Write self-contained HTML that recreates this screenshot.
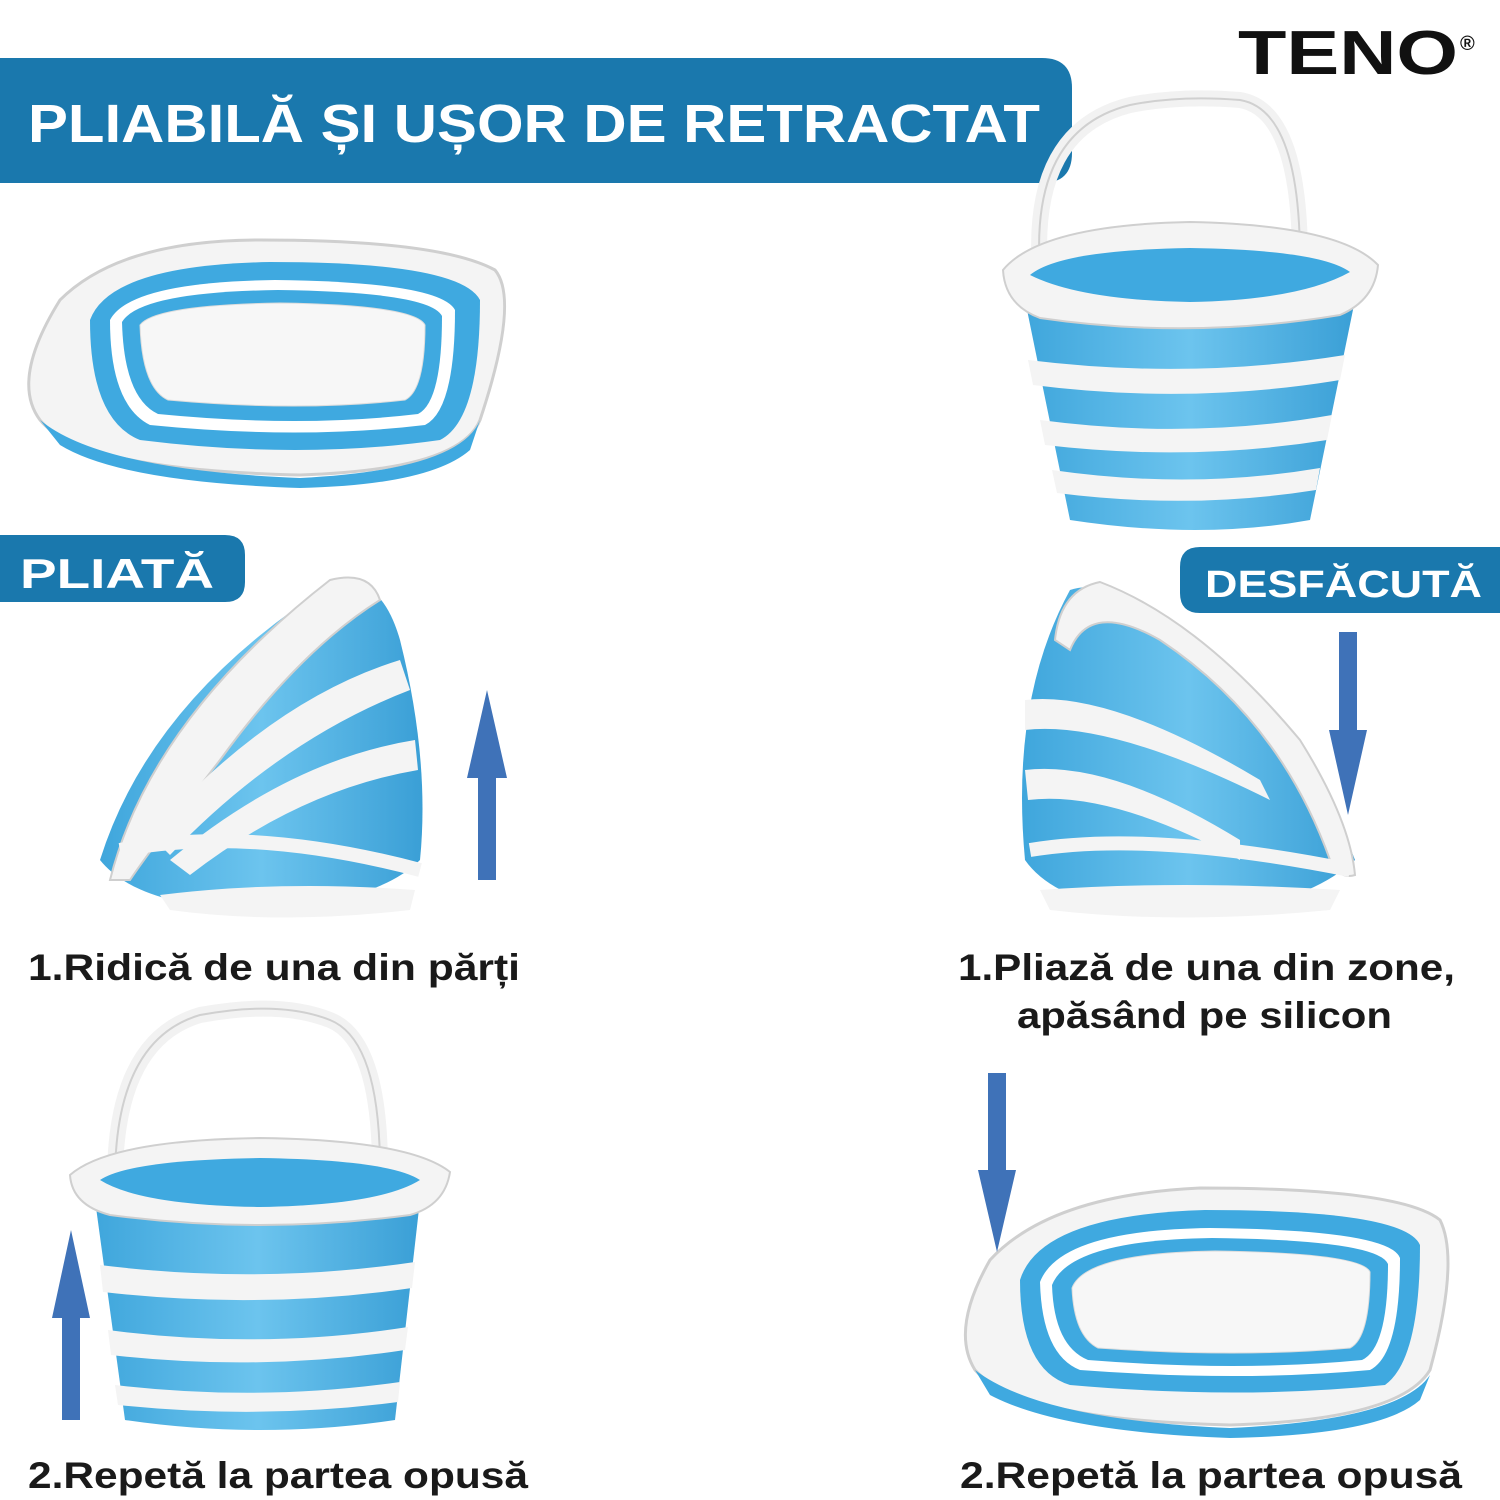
<!DOCTYPE html>
<html><head><meta charset="utf-8"><style>
html,body{margin:0;padding:0;background:#fff;}
svg{display:block}
text{font-family:"Liberation Sans",sans-serif;font-weight:bold}
</style></head><body>
<svg width="1500" height="1500" viewBox="0 0 1500 1500" xmlns="http://www.w3.org/2000/svg">
<defs>
<linearGradient id="bl" x1="0" x2="1"><stop offset="0" stop-color="#3fa6dc"/><stop offset="0.5" stop-color="#6cc4ee"/><stop offset="1" stop-color="#3a9fd6"/></linearGradient>
</defs>
<!-- header -->
<path d="M0 58 H1042 Q1072 58 1072 88 V153 Q1072 183 1042 183 H0 Z" fill="#1a78ad"/>
<text x="28" y="142" font-size="54" fill="#fff" textLength="1012" lengthAdjust="spacingAndGlyphs">PLIABILĂ ȘI UȘOR DE RETRACTAT</text>
<!-- logo -->
<text x="1238" y="74" font-size="62" fill="#111" textLength="220" lengthAdjust="spacingAndGlyphs">TENO</text>
<text x="1460" y="50" font-size="20" fill="#111">®</text>

<!-- labels -->
<path d="M0 535 H225 Q245 535 245 555 V582 Q245 602 225 602 H0 Z" fill="#1a78ad"/>
<text x="20" y="588" font-size="42" fill="#fff" textLength="194" lengthAdjust="spacingAndGlyphs">PLIATĂ</text>
<path d="M1200 547 H1500 V613 H1200 Q1180 613 1180 593 V567 Q1180 547 1200 547 Z" fill="#1a78ad"/>
<text x="1205" y="597" font-size="38" fill="#fff" textLength="277" lengthAdjust="spacingAndGlyphs">DESFĂCUTĂ</text>

<!-- bucket 1 folded top-left -->
<g>
<path d="M60 300 Q120 240 260 240 Q440 240 495 270 Q520 300 480 420 Q460 470 300 475 Q80 470 40 420 Q10 380 60 300 Z" fill="#f4f4f4" stroke="#cfcfcf" stroke-width="3"/>
<path d="M90 320 Q110 265 270 262 Q460 262 480 300 Q480 420 440 440 Q300 460 140 440 Q90 420 90 320 Z" fill="#3fa9e0"/>
<path d="M110 320 Q130 282 275 280 Q440 282 455 310 Q455 410 425 425 Q300 440 150 425 Q110 405 110 320 Z" fill="#fff"/>
<path d="M122 322 Q140 292 278 290 Q430 292 442 316 Q442 402 418 414 Q300 428 158 414 Q124 398 122 322 Z" fill="#3fa9e0"/>
<path d="M140 325 Q155 305 280 303 Q415 305 425 325 Q425 390 405 400 Q300 412 168 400 Q142 388 140 325 Z" fill="#f7f7f7" stroke="#ddd"/>
<path d="M40 420 Q100 470 300 478 Q460 470 480 420 L470 450 Q430 485 300 488 Q120 482 60 445 Z" fill="#3fa9e0"/>
</g>

<!-- bucket 2 upright top-right -->
<g>
<path d="M1040 270 Q1030 130 1130 105 Q1180 95 1240 100 Q1300 110 1300 260" fill="none" stroke="#f2f2f2" stroke-width="16"/>
<path d="M1040 270 Q1030 130 1130 105 Q1180 95 1240 100 Q1300 110 1300 260" fill="none" stroke="#d0d0d0" stroke-width="2"/>
<path d="M1025 300 L1355 300 L1310 520 Q1200 540 1070 520 Z" fill="url(#bl)"/>
<path d="M1028 360 Q1190 380 1345 355 L1340 380 Q1190 405 1033 385 Z" fill="#f4f4f4"/>
<path d="M1040 420 Q1190 440 1332 415 L1327 440 Q1190 462 1045 445 Z" fill="#f4f4f4"/>
<path d="M1052 470 Q1190 490 1320 468 L1316 490 Q1190 510 1057 493 Z" fill="#f4f4f4"/>
<path d="M1003 270 Q1040 225 1190 222 Q1340 225 1378 265 Q1375 300 1340 315 Q1190 340 1040 318 Q1005 305 1003 270 Z" fill="#f4f4f4" stroke="#cfcfcf" stroke-width="2"/>
<path d="M1030 275 Q1060 250 1190 248 Q1320 250 1350 272 Q1300 300 1190 302 Q1080 300 1030 275 Z" fill="#3fa9e0"/>
</g>

<!-- bucket 3 tilted left -->
<g>
<path d="M100 860 Q150 700 330 585 Q380 570 400 640 Q430 760 420 860 Q380 900 270 910 Q140 910 100 860 Z" fill="url(#bl)"/>
<path d="M110 880 Q150 720 330 580 Q370 570 380 600 Q300 650 220 760 Q150 850 130 880 Z" fill="#f4f4f4" stroke="#cfcfcf" stroke-width="2"/>
<path d="M150 835 Q270 700 400 660 L410 690 Q280 740 170 855 Z" fill="#f4f4f4"/>
<path d="M170 860 Q290 760 415 740 L418 770 Q300 790 190 875 Z" fill="#f4f4f4"/>
<path d="M120 850 Q250 825 420 870" fill="none" stroke="#f4f4f4" stroke-width="14"/>
<path d="M160 895 Q280 880 415 890 L410 910 Q280 925 170 910 Z" fill="#f4f4f4"/>
</g>

<!-- bucket 4 tilted right -->
<g>
<path d="M1025 860 Q1010 700 1070 590 Q1110 575 1200 640 Q1310 740 1355 860 Q1300 910 1180 915 Q1060 910 1025 860 Z" fill="url(#bl)"/>
<path d="M1055 640 Q1060 590 1100 582 Q1200 620 1300 740 Q1350 820 1355 875 Q1340 880 1330 860 Q1280 720 1160 640 Q1090 600 1070 650 Z" fill="#f4f4f4" stroke="#cfcfcf" stroke-width="2"/>
<path d="M1025 700 Q1110 690 1260 780 L1270 800 Q1110 720 1025 730 Z" fill="#f4f4f4"/>
<path d="M1025 770 Q1110 760 1240 840 L1240 860 Q1110 790 1028 800 Z" fill="#f4f4f4"/>
<path d="M1030 850 Q1150 830 1350 870" fill="none" stroke="#f4f4f4" stroke-width="14"/>
<path d="M1040 890 Q1180 880 1340 890 L1330 910 Q1180 925 1050 910 Z" fill="#f4f4f4"/>
</g>

<!-- bucket 5 upright bottom-left -->
<g>
<path d="M115 1180 Q115 1040 200 1015 Q280 1000 330 1020 Q380 1040 380 1170" fill="none" stroke="#f2f2f2" stroke-width="16"/>
<path d="M115 1180 Q115 1040 200 1015 Q280 1000 330 1020 Q380 1040 380 1170" fill="none" stroke="#d0d0d0" stroke-width="2"/>
<path d="M95 1200 L420 1200 L395 1420 Q260 1440 125 1420 Z" fill="url(#bl)"/>
<path d="M100 1265 Q260 1285 415 1262 L412 1288 Q260 1310 103 1292 Z" fill="#f4f4f4"/>
<path d="M108 1330 Q260 1350 408 1327 L405 1350 Q260 1372 111 1355 Z" fill="#f4f4f4"/>
<path d="M115 1385 Q260 1402 400 1382 L398 1402 Q260 1420 118 1405 Z" fill="#f4f4f4"/>
<path d="M70 1175 Q110 1140 260 1138 Q410 1140 450 1172 Q445 1205 410 1215 Q260 1235 110 1215 Q72 1205 70 1175 Z" fill="#f4f4f4" stroke="#cfcfcf" stroke-width="2"/>
<path d="M100 1180 Q130 1160 260 1158 Q390 1160 420 1180 Q380 1205 260 1207 Q140 1205 100 1180 Z" fill="#3fa9e0"/>
</g>

<!-- bucket 6 folded bottom-right -->
<g>
<path d="M990 1260 Q1050 1195 1200 1188 Q1400 1188 1440 1220 Q1460 1260 1430 1370 Q1400 1420 1230 1425 Q1020 1420 975 1370 Q950 1330 990 1260 Z" fill="#f4f4f4" stroke="#cfcfcf" stroke-width="3"/>
<path d="M1020 1280 Q1040 1215 1205 1210 Q1405 1210 1420 1245 Q1420 1360 1385 1385 Q1240 1400 1070 1385 Q1020 1370 1020 1280 Z" fill="#3fa9e0"/>
<path d="M1040 1282 Q1060 1230 1210 1228 Q1390 1230 1400 1258 Q1400 1355 1370 1370 Q1240 1382 1080 1370 Q1042 1355 1040 1282 Z" fill="#fff"/>
<path d="M1052 1285 Q1070 1240 1212 1238 Q1378 1240 1388 1264 Q1388 1348 1362 1360 Q1240 1372 1088 1360 Q1054 1346 1052 1285 Z" fill="#3fa9e0"/>
<path d="M1072 1288 Q1085 1253 1215 1251 Q1362 1253 1370 1272 Q1370 1338 1350 1348 Q1240 1358 1098 1348 Q1074 1336 1072 1288 Z" fill="#f7f7f7" stroke="#ddd"/>
<path d="M975 1370 Q1040 1420 1230 1428 Q1400 1420 1430 1375 L1420 1400 Q1380 1435 1230 1438 Q1060 1432 990 1395 Z" fill="#3fa9e0"/>
</g>

<!-- arrows -->
<g fill="#3f72b8">
<polygon points="478,880 496,880 496,778 507,778 487,690 467,778 478,778"/>
<polygon points="1339,632 1357,632 1357,730 1367,730 1348,815 1329,730 1339,730"/>
<polygon points="988,1073 1006,1073 1006,1170 1016,1170 997,1252 978,1170 988,1170"/>
<polygon points="62,1420 80,1420 80,1318 90,1318 71,1230 52,1318 62,1318"/>
</g>

<!-- captions -->
<text x="28" y="980" font-size="37" fill="#1a1a1a" textLength="492" lengthAdjust="spacingAndGlyphs">1.Ridică de una din părți</text>
<text x="958" y="980" font-size="37" fill="#1a1a1a" textLength="497" lengthAdjust="spacingAndGlyphs">1.Pliază de una din zone,</text>
<text x="1017" y="1028" font-size="37" fill="#1a1a1a" textLength="375" lengthAdjust="spacingAndGlyphs">apăsând pe silicon</text>
<text x="28" y="1488" font-size="37" fill="#1a1a1a" textLength="500" lengthAdjust="spacingAndGlyphs">2.Repetă la partea opusă</text>
<text x="960" y="1488" font-size="37" fill="#1a1a1a" textLength="502" lengthAdjust="spacingAndGlyphs">2.Repetă la partea opusă</text>
</svg>
</body></html>
